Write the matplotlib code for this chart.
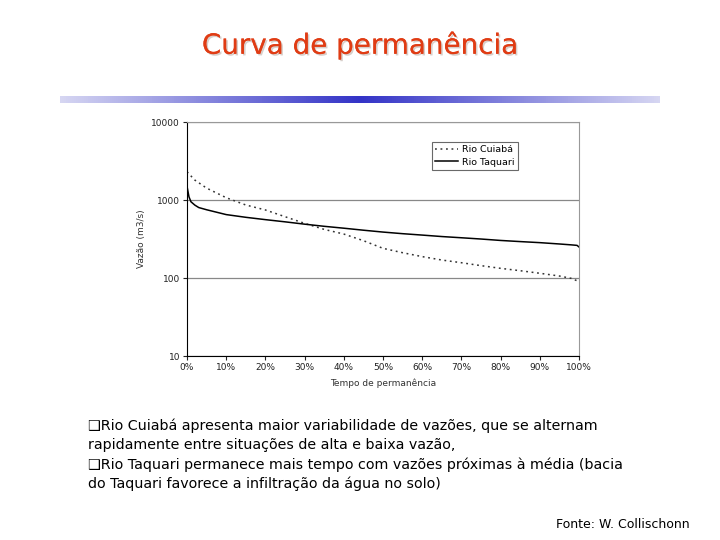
import numpy as np
import matplotlib
matplotlib.use("Agg")
import matplotlib.pyplot as plt
import matplotlib.patheffects as pe
from matplotlib.ticker import FixedLocator, NullLocator, FuncFormatter

plt.rcParams['font.family'] = ['DejaVu Sans']

# data (flow duration curves)
pct_cuiaba = [0, 2, 5, 10, 15, 20, 25, 30, 35, 40, 45, 50, 55, 60, 65, 70, 75, 80, 85, 90, 95, 98, 100]
q_cuiaba = [2300, 1800, 1420, 1070, 863, 745, 611, 502, 420, 366, 301, 240, 211, 188, 170, 157,
            144, 133, 124, 115, 106, 99, 90]

pct_taquari = [0, 0.5, 1, 2, 3, 5, 10, 15, 20, 25, 30, 35, 40, 45, 50, 55, 60, 65, 70, 75, 80,
               85, 90, 95, 98, 99.5, 100]
q_taquari = [1500, 1100, 950, 860, 800, 750, 650, 600, 560, 525, 490, 460, 435, 410, 388, 370,
             355, 340, 328, 316, 303, 293, 284, 273, 266, 262, 250]

y_ticks = [10, 100, 1000, 10000]
x_ticks = [0, 10, 20, 30, 40, 50, 60, 70, 80, 90, 100]

title = "Curva de permanência"
body = ["\u2751Rio Cuiabá apresenta maior variabilidade de vazões, que se alternam",
        "rapidamente entre situações de alta e baixa vazão,",
        "\u2751Rio Taquari permanece mais tempo com vazões próximas à média (bacia",
        "do Taquari favorece a infiltração da água no solo)"]
fonte = "Fonte: W. Collischonn"

W, H = 720, 540
fig = plt.figure(figsize=(7.2, 5.4), dpi=100)
fig.patch.set_facecolor('white')

# title with a soft shadow
fig.text(360 / W, 1 - 45 / H, title, ha='center', va='center', fontsize=20, color='#e03c14',
         path_effects=[pe.withSimplePatchShadow(offset=(1.2, -1.2), shadow_rgbFace='#cfc4be',
                                                alpha=0.8), pe.Normal()])

# gradient bar under the title
bar_ax = fig.add_axes([60 / W, 1 - 103 / H, 600 / W, 7 / H])
t = np.linspace(0, 1, 300)
w = 1 - np.abs(t - 0.5) * 2
c0 = np.array([0.84, 0.84, 0.95])
c1 = np.array([0.20, 0.20, 0.78])
grad = c0[None, :] * (1 - w[:, None]) + c1[None, :] * w[:, None]
bar_ax.imshow(grad[None, :, :], aspect='auto')
bar_ax.axis('off')

# chart
ax = fig.add_axes([187 / W, 1 - 356 / H, 392 / W, 234 / H])
ax.plot(pct_cuiaba, q_cuiaba, color='#333333', lw=1.1, ls=(0, (1.2, 2.4)), label='Rio Cuiabá')
ax.plot(pct_taquari, q_taquari, color='black', lw=1.1, label='Rio Taquari')
ax.set_yscale('log')
ax.set_xlim(0, 100)
ax.set_ylim(10, 10000)
ax.yaxis.set_major_locator(FixedLocator(y_ticks))
ax.yaxis.set_minor_locator(NullLocator())
ax.yaxis.set_major_formatter(FuncFormatter(lambda v, p: "%d" % v))
ax.xaxis.set_major_locator(FixedLocator(x_ticks))
ax.xaxis.set_major_formatter(FuncFormatter(lambda v, p: "%d%%" % v))
ax.grid(axis='y', color='#888888', lw=0.9)
for s in ['top', 'right']:
    ax.spines[s].set_color('#999999')
for s in ['left', 'bottom']:
    ax.spines[s].set_color('black')
ax.tick_params(labelsize=6.5, length=3, width=0.8, colors='#222222', pad=2)
ax.set_xlabel("Tempo de permanência", fontsize=6.5, color='#333333', labelpad=5)
ax.set_ylabel("Vazão (m3/s)", fontsize=6.5, color='#333333', labelpad=4)
leg = ax.legend(loc='upper left', bbox_to_anchor=(0.625, 0.915), fontsize=6.8, frameon=True,
                fancybox=False, edgecolor='#444444', handlelength=2.4, borderpad=0.35,
                labelspacing=0.35, handletextpad=0.4, borderaxespad=0)
leg.get_frame().set_linewidth(0.8)

# bullet text
for i, line in enumerate(body):
    fig.text(88 / W, 1 - (426 + i * 19.4) / H, line, ha='left', va='center',
             fontsize=10.3, color='black')

fig.text(690 / W, 1 - 524 / H, fonte, ha='right', va='center', fontsize=9, color='black')

fig.savefig("out.png", dpi=100, facecolor='white')
